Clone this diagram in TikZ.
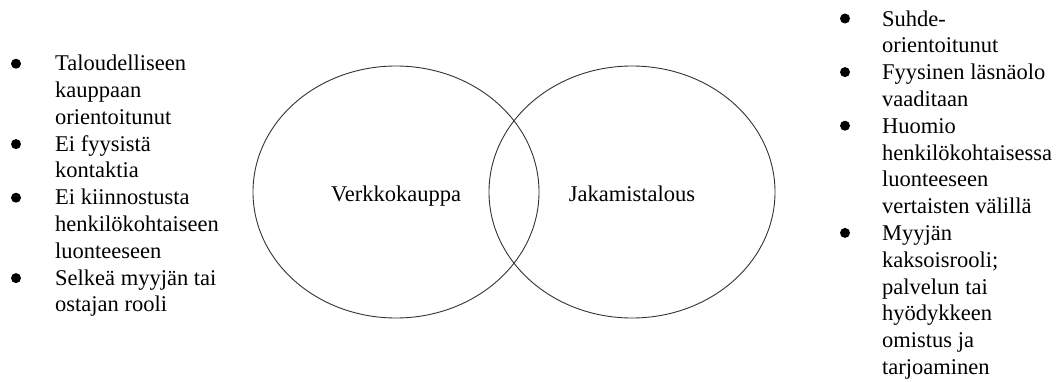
\documentclass[tikz,border=0pt]{standalone}
\usepackage{fontspec}
\setmainfont{Liberation Serif}
\usetikzlibrary{shapes.geometric}
\begin{document}
\begin{tikzpicture}[x=1pt,y=-1pt,
  txt/.style={anchor=base west,inner sep=0pt,font=\fontsize{22.5}{26.8}\selectfont},
  lbl/.style={anchor=base,inner sep=0pt,font=\fontsize{22.5}{26.8}\selectfont},
  bul/.style={circle,fill=black,inner sep=0pt,minimum size=10pt},
  venn/.style={ellipse,draw=black!80,line width=0.9pt,inner sep=0pt,minimum width=286pt,minimum height=252pt}]
\useasboundingbox[fill=white] (0,0) rectangle (1058,381);
% ellipses
\node[venn] (vk) at (396,192) {};
\node[venn] (jt) at (632,192) {};
\node[lbl] (vkl) at (396,201.7) {Verkkokauppa};
\node[lbl] (jtl) at (632,201.7) {Jakamistalous};
% left list
\foreach \t [count=\i] in {Taloudelliseen,kauppaan,orientoitunut,Ei fyysistä,kontaktia,Ei kiinnostusta,henkilökohtaiseen,luonteeseen,Selkeä myyjän tai,ostajan rooli}
  \node[txt] (L\i) at (55,{70.7+(\i-1)*26.8}) {\t};
\foreach \i in {1,4,6,9}
  \node[bul] (LB\i) at (16,{70.7+(\i-1)*26.8-7}) {};
% right list
\foreach \t [count=\i] in {Suhde-,orientoitunut,Fyysinen läsnäolo,vaaditaan,Huomio,henkilökohtaisessa,luonteeseen,vertaisten välillä,Myyjän,kaksoisrooli;,palvelun tai,hyödykkeen,omistus ja,tarjoaminen}
  \node[txt] (R\i) at (882,{26+(\i-1)*26.8}) {\t};
\foreach \i in {1,3,5,9}
  \node[bul] (RB\i) at (845,{26+(\i-1)*26.8-7.5}) {};
\end{tikzpicture}
\end{document}
